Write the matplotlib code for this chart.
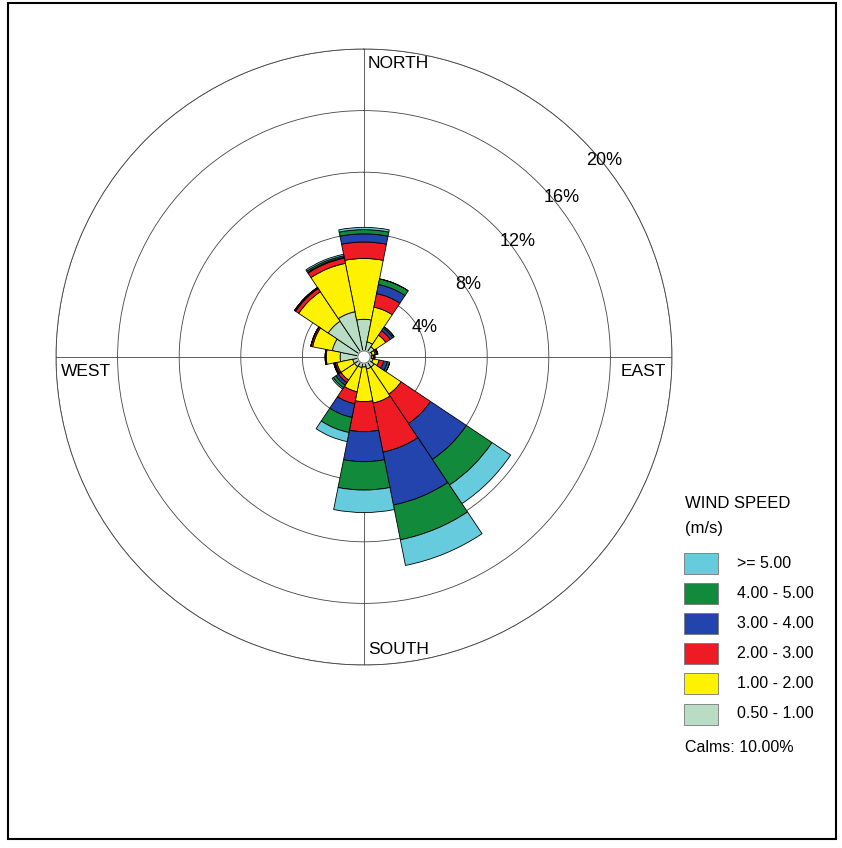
import numpy as np
import matplotlib.pyplot as plt
from matplotlib.patches import Rectangle

plt.rcParams['font.family'] = ['Liberation Sans', 'DejaVu Sans']

# wind directions, clockwise from north
directions = ['N', 'NNE', 'NE', 'ENE', 'E', 'ESE', 'SE', 'SSE',
              'S', 'SSW', 'SW', 'WSW', 'W', 'WNW', 'NW', 'NNW']

# frequency (%) per speed class and direction
speed_050_100 = [2.05, 0.60, 0.40, 0.15, 0.10, 0.20, 0.40, 0.40,
                 0.25, 0.30, 0.35, 0.35, 1.15, 1.70, 2.40, 2.60]
speed_100_200 = [3.95, 2.30, 0.90, 0.20, 0.10, 0.40, 2.10, 2.25,
                 2.25, 1.60, 1.05, 1.05, 0.90, 1.30, 2.30, 3.20]
speed_200_300 = [1.07, 0.90, 0.35, 0.10, 0.05, 0.30, 2.30, 3.25,
                 1.95, 0.80, 0.20, 0.10, 0.05, 0.10, 0.25, 0.35]
speed_300_400 = [0.53, 0.60, 0.20, 0.05, 0.05, 0.25, 2.80, 3.50,
                 1.95, 0.90, 0.20, 0.05, 0.02, 0.02, 0.05, 0.05]
speed_400_500 = [0.27, 0.37, 0.10, 0.02, 0.00, 0.15, 2.00, 2.30,
                 1.84, 1.00, 0.20, 0.05, 0.00, 0.00, 0.03, 0.10]
speed_500_up = [0.15, 0.00, 0.00, 0.00, 0.00, 0.00, 1.45, 1.70,
                1.46, 0.60, 0.10, 0.00, 0.00, 0.00, 0.00, 0.10]

speed_labels = ['0.50 - 1.00', '1.00 - 2.00', '2.00 - 3.00',
                '3.00 - 4.00', '4.00 - 5.00', '>= 5.00']
speed_colors = ['#b9dcc4', '#fff200', '#ee1b24', '#2343ad', '#128a3c', '#66ccdd']
ring_values = [4, 8, 12, 16, 20]
calms = 10.00
calm_radius = 0.4

series = [speed_050_100, speed_100_200, speed_200_300,
          speed_300_400, speed_400_500, speed_500_up]

W, H = 842, 848
fig = plt.figure(figsize=(W / 100, H / 100), dpi=100)

def fx(px):
    return px / W

def fy(py):
    return 1 - py / H

# polar axes: centre (364, 357) px, 20% ring radius 308 px
cx, cy, rad = 364, 357, 308
ax = fig.add_axes([fx(cx - rad), fy(cy + rad), 2 * rad / W, 2 * rad / H], projection='polar')
ax.set_theta_zero_location('N')
ax.set_theta_direction(-1)
ax.set_axisbelow(True)

theta = np.deg2rad(np.arange(len(directions)) * 22.5)
width = np.deg2rad(22.5)
bottom = np.full(len(directions), calm_radius)
for vals, col in zip(series, speed_colors):
    vals = np.array(vals)
    ax.bar(theta, vals, width=width, bottom=bottom, color=col,
           edgecolor='black', linewidth=0.6, zorder=3)
    bottom = bottom + vals

# calms circle
t = np.linspace(0, 2 * np.pi, 200)
ax.fill(t, np.full_like(t, calm_radius), color='white', zorder=4)
ax.plot(t, np.full_like(t, calm_radius), color='#555555', linewidth=0.6, zorder=5)

ax.set_ylim(0, ring_values[-1])
ax.set_yticks(ring_values)
ax.set_yticklabels([])
ax.set_xticks(np.deg2rad([0, 90, 180, 270]))
ax.set_xticklabels([])
ax.grid(color='#444444', linewidth=0.6)
ax.spines['polar'].set_color('#444444')
ax.spines['polar'].set_linewidth(0.6)

# compass labels
fig.text(fx(368), fy(63), 'NORTH', fontsize=12.5, ha='left', va='center')
fig.text(fx(368), fy(650), 'SOUTH', fontsize=12.5, ha='left', va='center')
fig.text(fx(61), fy(371), 'WEST', fontsize=12.5, ha='left', va='center')
fig.text(fx(666), fy(371), 'EAST', fontsize=12.5, ha='right', va='center')

# ring labels
ring_label_pos = [(424.5, 327.5), (468.5, 284.5), (517.5, 241.5), (562, 197.5), (604.5, 160.5)]
for v, (px, py) in zip(ring_values, ring_label_pos):
    fig.text(fx(px), fy(py), '%d%%' % v, fontsize=13, ha='center', va='center')

# legend
fig.text(fx(685), fy(503), 'WIND SPEED', fontsize=12, ha='left', va='center')
fig.text(fx(685), fy(528), '(m/s)', fontsize=12, ha='left', va='center')
row_y = [563, 593, 623, 653, 683, 714]
for lab, col, yy in zip(speed_labels[::-1], speed_colors[::-1], row_y):
    fig.add_artist(Rectangle((fx(684), fy(yy + 10.5)), 34 / W, 21 / H,
                             transform=fig.transFigure, facecolor=col,
                             edgecolor='#777777', linewidth=0.6))
    fig.text(fx(737), fy(yy), lab, fontsize=11.5, ha='left', va='center')
fig.text(fx(685), fy(747), 'Calms: %.2f%%' % calms, fontsize=11.5, ha='left', va='center')

# outer frame
fig.add_artist(Rectangle((fx(8), fy(839)), (836 - 8) / W, (839 - 3) / H,
                         transform=fig.transFigure, fill=False,
                         edgecolor='black', linewidth=1.5))

fig.savefig('out.png', dpi=100)
